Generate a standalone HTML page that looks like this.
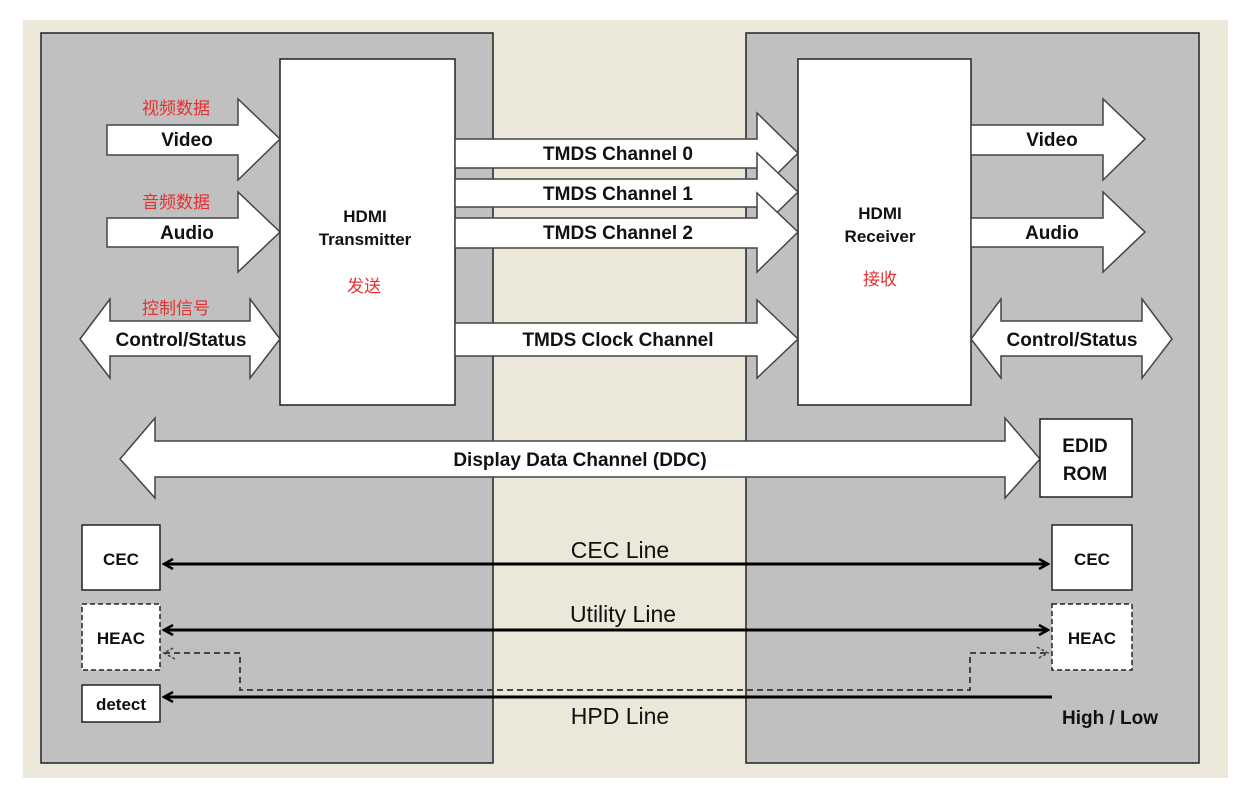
<!DOCTYPE html>
<html><head><meta charset="utf-8"><style>
html,body{margin:0;padding:0;background:#fff}
svg{display:block}
.b{font-family:"Liberation Sans",Arial,sans-serif;font-weight:bold;fill:#111}
.n{font-family:"Liberation Sans",Arial,sans-serif;fill:#111}
.r{font-family:"Liberation Sans","Noto Sans CJK SC",sans-serif;fill:#e53030}
</style></head><body>
<svg width="1254" height="800" viewBox="0 0 1254 800" xmlns="http://www.w3.org/2000/svg">
<defs>
<marker id="ah" markerWidth="12" markerHeight="12" refX="10" refY="6" orient="auto-start-reverse" markerUnits="userSpaceOnUse">
<path d="M1,1 L10,6 L1,11" fill="none" stroke="#000" stroke-width="2.5"/></marker>
<marker id="ad" markerWidth="14" markerHeight="14" refX="12" refY="7" orient="auto-start-reverse" markerUnits="userSpaceOnUse">
<path d="M1,1 L12,7 L1,13" fill="none" stroke="#444" stroke-width="1.5" stroke-dasharray="3,2"/></marker>
</defs>
<rect x="23" y="20" width="1205" height="758" fill="#ebe7d9"/>
<rect x="41" y="33" width="452" height="730" fill="#c0c0c0" stroke="#222" stroke-width="1.5"/>
<rect x="746" y="33" width="453" height="730" fill="#c0c0c0" stroke="#222" stroke-width="1.5"/>
<rect x="280" y="59" width="175" height="346" fill="#fff" stroke="#222" stroke-width="1.5"/>
<rect x="798" y="59" width="173" height="346" fill="#fff" stroke="#222" stroke-width="1.5"/>
<g fill="#fff" stroke="#444" stroke-width="1.5">
<!-- left inputs -->
<path d="M107,125 H238 V99 L280,139 L238,180 V155 H107 Z"/>
<path d="M107,218 H238 V192 L280,232 L238,272 V247 H107 Z"/>
<path d="M80,339 L110,299 V321 H250 V299 L280,339 L250,378 V356 H110 V378 Z"/>
<!-- TMDS -->
<path d="M455,139 H757 V113 L798,153 L757,194 V168 H455 Z"/>
<path d="M455,179 H757 V153 L798,192 L757,232 V207 H455 Z"/>
<path d="M455,218 H757 V193 L798,232 L757,272 V248 H455 Z"/>
<path d="M455,323 H757 V300 L798,339 L757,378 V356 H455 Z"/>
<!-- right outputs -->
<path d="M971,125 H1103 V99 L1145,139 L1103,180 V155 H971 Z"/>
<path d="M971,218 H1103 V192 L1145,232 L1103,272 V247 H971 Z"/>
<path d="M971,339 L1001,299 V321 H1142 V299 L1172,339 L1142,378 V356 H1001 V378 Z"/>
<!-- DDC -->
<path d="M120,459 L155,418 V441 H1005 V418 L1040,459 L1005,498 V477 H155 V498 Z"/>
</g>
<g fill="#fff" stroke="#222" stroke-width="1.5">
<rect x="1040" y="419" width="92" height="78"/>
<rect x="82" y="525" width="78" height="65"/>
<rect x="1052" y="525" width="80" height="65"/>
<rect x="82" y="685" width="78" height="37"/>
</g>
<g fill="#fff" stroke="#222" stroke-width="1.5" stroke-dasharray="5,3">
<rect x="82" y="604" width="78" height="66"/>
<rect x="1052" y="604" width="80" height="66"/>
</g>
<line x1="164" y1="564" x2="1048" y2="564" stroke="#000" stroke-width="3" marker-start="url(#ah)" marker-end="url(#ah)"/>
<line x1="164" y1="630" x2="1048" y2="630" stroke="#000" stroke-width="3" marker-start="url(#ah)" marker-end="url(#ah)"/>
<path d="M164,653 H240 V690 H970 V653 H1048" fill="none" stroke="#444" stroke-width="2" stroke-dasharray="6,4" marker-start="url(#ad)" marker-end="url(#ad)"/>
<line x1="1052" y1="697" x2="164" y2="697" stroke="#000" stroke-width="3" marker-end="url(#ah)"/>
<g class="b" font-size="19" text-anchor="middle">
<text x="187" y="146">Video</text>
<text x="187" y="239">Audio</text>
<text x="181" y="346">Control/Status</text>
<text x="1052" y="146">Video</text>
<text x="1052" y="239">Audio</text>
<text x="1072" y="346">Control/Status</text>
<text x="618" y="160">TMDS Channel 0</text>
<text x="618" y="200">TMDS Channel 1</text>
<text x="618" y="239">TMDS Channel 2</text>
<text x="618" y="346">TMDS Clock Channel</text>
<text x="580" y="466">Display Data Channel (DDC)</text>
<text x="1085" y="452">EDID</text>
<text x="1085" y="480">ROM</text>
<text x="1110" y="724">High / Low</text>
</g>
<g class="b" font-size="17" text-anchor="middle">
<text x="365" y="222">HDMI</text>
<text x="365" y="245">Transmitter</text>
<text x="880" y="219">HDMI</text>
<text x="880" y="242">Receiver</text>
<text x="121" y="565">CEC</text>
<text x="1092" y="565">CEC</text>
<text x="121" y="644">HEAC</text>
<text x="1092" y="644">HEAC</text>
<text x="121" y="710">detect</text>
</g>
<g class="n" font-size="23" text-anchor="middle">
<text x="620" y="558">CEC Line</text>
<text x="623" y="622">Utility Line</text>
<text x="620" y="724">HPD Line</text>
</g>
<g class="r" font-size="17" text-anchor="middle">
<text x="176" y="114">视频数据</text>
<text x="176" y="208">音频数据</text>
<text x="176" y="314">控制信号</text>
<text x="364" y="292">发送</text>
<text x="880" y="285">接收</text>
</g>
</svg>
</body></html>
